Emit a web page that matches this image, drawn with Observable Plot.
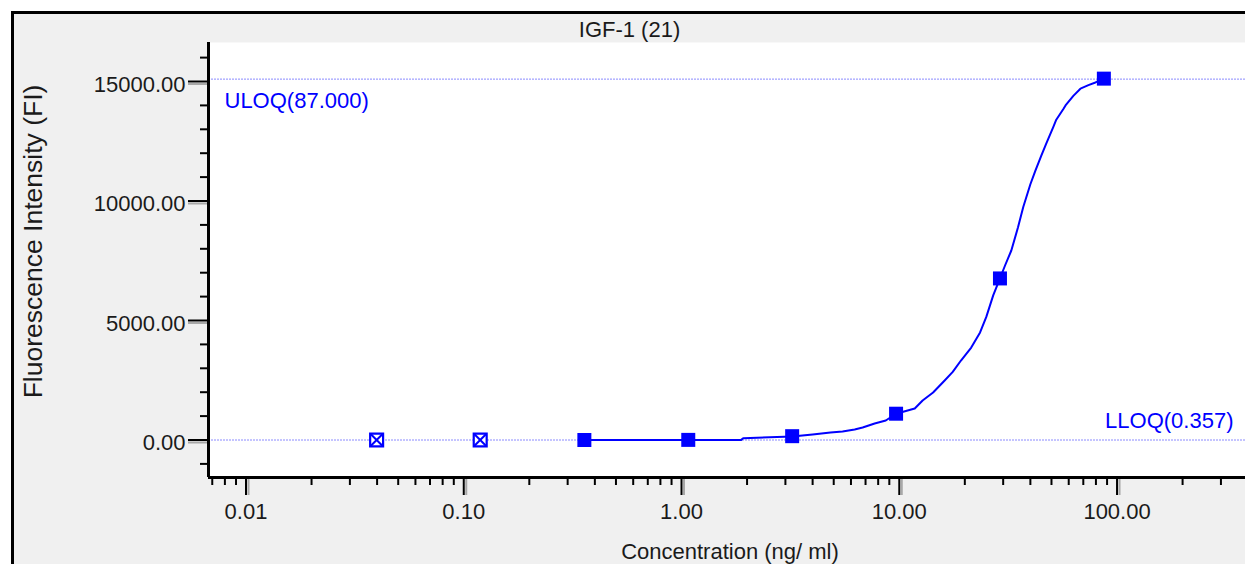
<!DOCTYPE html>
<html><head><meta charset="utf-8">
<script src="https://cdn.jsdelivr.net/npm/d3@7"></script>
<script src="https://cdn.jsdelivr.net/npm/@observablehq/plot@0.6"></script>
<style>
html,body{margin:0;padding:0;width:1245px;height:564px;overflow:hidden;background:#fff;}
#panel{position:absolute;left:11px;top:11px;width:1240px;height:560px;border-left:3px solid #000;border-top:3px solid #000;background:#f0f0f0;}
#chart{position:absolute;left:0;top:0;width:1245px;height:564px;}
</style></head><body>
<div id="panel"></div>
<div id="chart"></div>
<script>
// ---- data ----
const chartTitle = "IGF-1 (21)";
const xLabel = "Concentration (ng/ ml)";
const yLabel = "Fluorescence Intensity (FI)";

// standards (1:3 dilution series)
const stdConc = [87, 29, 9.667, 3.222, 1.074, 0.358];
const stdFI   = [15120, 6760, 1100, 160, 5, 0];
// excluded (crossed) standards
const exclConc = [0.119, 0.0398];
const exclFI   = [0, 0];

// fitted curve
const curveConc = [0.358, 1.0, 1.88, 1.92, 3.222, 3.59, 4.0, 4.83, 5.49, 6.24, 6.79, 7.71, 8.67, 9.667, 11.78, 12.8, 14.3, 16.2, 17.6, 19.2, 21.4, 23.5, 25.1, 27.0, 29.0, 30.6, 32.7, 35.1, 37.1, 40.0, 42.1, 44.9, 47.3, 51.0, 52.6, 56.7, 58.0, 63.0, 67.9, 73.9, 79.6, 87];
const curveFI   = [0, 5, 5, 75, 150, 188, 230, 314, 356, 439, 523, 690, 816, 1100, 1318, 1653, 1987, 2500, 2850, 3326, 3870, 4500, 5150, 6050, 6760, 7301, 7929, 8900, 9750, 10700, 11250, 11900, 12400, 13100, 13400, 13850, 14000, 14400, 14700, 14850, 14960, 15120];

const uloqFI = 15100, uloqLabel = "ULOQ(87.000)";
const lloqFI = 0, lloqLabel = "LLOQ(0.357)";

const xMajorTicks = [0.01, 0.1, 1, 10, 100];
const xMajorLabels = ["0.01", "0.10", "1.00", "10.00", "100.00"];
const xMinorTicks = [0.007, 0.008, 0.009,
  0.02, 0.03, 0.04, 0.05, 0.06, 0.07, 0.08, 0.09,
  0.2, 0.3, 0.4, 0.5, 0.6, 0.7, 0.8, 0.9,
  2, 3, 4, 5, 6, 7, 8, 9,
  20, 30, 40, 50, 60, 70, 80, 90,
  200, 300];
const yMajorTicks = [0, 5000, 10000, 15000];
const yMajorLabels = ["0.00", "5000.00", "10000.00", "15000.00"];
const yMinorTicks = [-1000, 1000, 2000, 3000, 4000, 6000, 7000, 8000, 9000, 11000, 12000, 13000, 14000, 16000];

const xDomain = [0.006727, 389];
const yDomain = [-1569, 16632];

// ---- tables ----
const curve = curveConc.map((c, i) => ({c, fi: curveFI[i]}));
const stds = stdConc.map((c, i) => ({c, fi: stdFI[i]}));
const excl = exclConc.map((c, i) => ({c, fi: exclFI[i]}));

const blue = "#0000ff";
const refBlue = "#8a8aff";
const ink = "#1a1a1a";
const font = "'Liberation Sans', Arial, sans-serif";

const chart = Plot.plot({
  width: 1245,
  height: 564,
  marginLeft: 208,
  marginRight: 0,
  marginTop: 42,
  marginBottom: 87,
  style: {background: "transparent", fontFamily: font, fontSize: "22px", color: ink},
  x: {type: "log", domain: xDomain, axis: null},
  y: {domain: yDomain, axis: null},
  marks: [
    Plot.frame({fill: "white", stroke: "none"}),
    Plot.ruleY([uloqFI, lloqFI], {stroke: refBlue, strokeWidth: 1, strokeDasharray: "2,1"}),
    Plot.line(curve, {x: "c", y: "fi", stroke: blue, strokeWidth: 2}),
    Plot.dot(stds, {x: "c", y: "fi", symbol: "square", r: 7.9, fill: blue, stroke: "none"}),
    Plot.dot(excl, {x: "c", y: "fi", symbol: "square", r: 7.3, fill: "white", stroke: blue, strokeWidth: 2.2}),
    Plot.dot(excl, {x: "c", y: "fi", symbol: "times", r: 5.5, stroke: blue, strokeWidth: 2}),
    Plot.text([uloqLabel], {y: uloqFI, frameAnchor: "left", textAnchor: "start", lineAnchor: "middle", dx: 16, dy: 22, fill: blue, fontSize: 22}),
    Plot.text([lloqLabel], {y: lloqFI, frameAnchor: "right", textAnchor: "end", lineAnchor: "middle", dx: -12, dy: -19, fill: blue, fontSize: 22}),
    // tick shadows
    Plot.axisY(yMajorTicks, {anchor: "left", tickSize: 20, fill: "none", stroke: "#a8a8a8", strokeWidth: 2, dy: 2.5, label: null}),
    Plot.axisX(xMajorTicks, {anchor: "bottom", tickSize: 18, fill: "none", stroke: "#a8a8a8", strokeWidth: 2, dx: 2.5, label: null}),
    // ticks
    Plot.axisY(yMajorTicks, {anchor: "left", tickSize: 20, fill: "none", stroke: "black", strokeWidth: 2, label: null}),
    Plot.axisY(yMinorTicks, {anchor: "left", tickSize: 8, fill: "none", stroke: "black", strokeWidth: 2, label: null}),
    Plot.axisX(xMajorTicks, {anchor: "bottom", tickSize: 18, fill: "none", stroke: "black", strokeWidth: 2, label: null}),
    Plot.axisX(xMinorTicks, {anchor: "bottom", tickSize: 8, fill: "none", stroke: "black", strokeWidth: 2, label: null}),
    // axis lines
    Plot.ruleX([xDomain[0]], {stroke: "black", strokeWidth: 3}),
    Plot.ruleY([yDomain[0]], {stroke: "black", strokeWidth: 3}),
    // tick labels
    Plot.text(yMajorTicks, {y: d => d, text: (d, i) => yMajorLabels[i], frameAnchor: "left", textAnchor: "end", lineAnchor: "middle", dx: -23, dy: 3, fill: ink, fontSize: 22}),
    Plot.text(xMajorTicks, {x: d => d, text: (d, i) => xMajorLabels[i], frameAnchor: "bottom", textAnchor: "middle", lineAnchor: "middle", dy: 34, fill: ink, fontSize: 22}),
    // titles
    Plot.text([chartTitle], {frameAnchor: "top", textAnchor: "middle", lineAnchor: "middle", dx: -97.5, dy: -13, fill: ink, fontSize: 22}),
    Plot.text([xLabel], {frameAnchor: "bottom", textAnchor: "middle", lineAnchor: "middle", dx: 3, dy: 74, fill: ink, fontSize: 22}),
    Plot.text([yLabel], {frameAnchor: "left", rotate: -90, textAnchor: "middle", lineAnchor: "middle", dx: -175, dy: -18.5, fill: ink, fontSize: 26.5})
  ]
});
document.getElementById("chart").appendChild(chart);
</script></body></html>
